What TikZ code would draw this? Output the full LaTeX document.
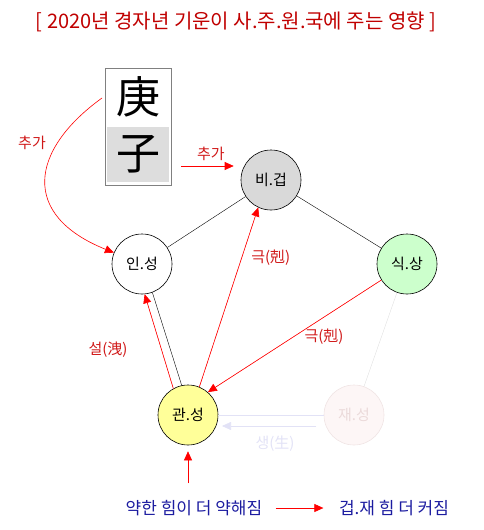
\documentclass[tikz,border=0pt]{standalone}
\usepackage{fontspec}
\setmainfont{Noto Sans CJK KR}
\usepackage{tikz}
\usetikzlibrary{arrows,arrows.meta,positioning}
\definecolor{titlered}{HTML}{C00000}
\definecolor{labelred}{HTML}{D01818}
\definecolor{arrowred}{HTML}{FF0000}
\definecolor{navytext}{HTML}{1C1CA0}
\definecolor{bigray}{HTML}{D9D9D9}
\definecolor{sikgreen}{HTML}{CCFFCC}
\definecolor{gwanyellow}{HTML}{FFFF99}
\definecolor{jaefill}{HTML}{FDF6F6}
\definecolor{jaeline}{HTML}{F0E4E4}
\definecolor{jaetext}{HTML}{EBDADA}
\definecolor{faintblue}{HTML}{E2E2F6}
\definecolor{boxgray}{HTML}{DDDDDD}
\tikzstyle{ohaeng}=[circle,draw=black,minimum size=60pt,inner sep=0pt,font=\fontsize{15}{15}\selectfont]
\tikzstyle{hanja}=[minimum width=66pt,minimum height=58pt,inner sep=0pt,font=\fontsize{44}{44}\selectfont]
\tikzstyle{post}=[->,>={Triangle[length=9pt,width=8pt]},draw=arrowred,fill=arrowred]
\tikzstyle{lbl}=[text=labelred,font=\fontsize{15}{15}\selectfont]

\begin{document}
\begin{tikzpicture}[
    x=1pt,y=-1pt,
    semithick,
    text centered
    ]
    \useasboundingbox (0,0) rectangle (483,530);
    \node[text=titlered,font=\fontsize{20}{20}\selectfont] (title) at (236,22) {[ 2020년 경자년 기운이 사.주.원.국에 주는 영향 ]};

    % gan-ji box
    \node[hanja] (gan) at (138,97) {庚};
    \node[hanja,fill=boxgray,minimum width=62pt,minimum height=55pt] (ji) at (138,154) {子};
    \draw[gray,thin] (gan.north west) rectangle ([yshift=-3pt]ji.south -| gan.east);

    % five nodes
    \node[ohaeng,fill=bigray](bi) at (271,180) {비.겁};
    \node[ohaeng](in) at (142,264) {인.성};
    \node[ohaeng,fill=sikgreen](sik) at (407,264) {식.상};
    \node[ohaeng,fill=gwanyellow](gwan) at (188,415) {관.성};
    \node[ohaeng,fill=jaefill,draw=jaeline,text=jaetext](jae) at (354,415) {재.성};

    \draw[thin] (in) -- (bi);
    \draw[thin] (bi) -- (sik);
    \draw[thin] (in.-70) -- (gwan.102);
    \draw[thin,draw=black!12] (sik) -- (jae);
    \draw[thin,draw=faintblue] (gwan) -- (jae);

    % red arrows
    \draw[post] (gwan.119) -- (in.-85);
    \draw[post] (gwan.68) -- node[lbl,pos=0.72,right=6pt] {극(剋)} (bi.-115);
    \draw[post] (sik.-148) -- node[lbl,pos=0.33,below=8pt] {극(剋)} (gwan.49);
    \node[lbl] (seol) at (108,350) {설(洩)};

    % faint arrow
    \coordinate (saengstart) at (316,426);
    \coordinate (saengend) at (222,426);
    \draw[->,>={Triangle[length=9pt,width=8pt]},draw=faintblue,fill=faintblue] (saengstart) -- (saengend);
    \node[text=faintblue,font=\fontsize{15}{15}\selectfont] (saeng) at (275,444) {생(生)};

    % additions from box
    \coordinate (box1) at (181,166);
    \coordinate (box2) at (102,98);
    \draw[post,shorten >=7pt] (box1) -- node[lbl,above=2pt] {추가} (bi.west |- box1);
    \draw[post,fill=none] (box2) .. controls (30,150) and (20,215) .. (in.158);
    \node[lbl] (chuga) at (32,143) {추가};

    % bottom
    \node[text=navytext,font=\fontsize{17}{17}\selectfont] (weak) at (194,508) {약한 힘이 더 약해짐};
    \node[text=navytext,font=\fontsize{17}{17}\selectfont] (strong) at (394,508) {겁.재 힘 더 커짐};
    \coordinate (up) at (188,483);
    \draw[post] (up) -- ([yshift=-6pt]gwan.south);
    \draw[post,shorten <=10pt,shorten >=12pt] (weak) -- (strong);
\end{tikzpicture}
\end{document}
